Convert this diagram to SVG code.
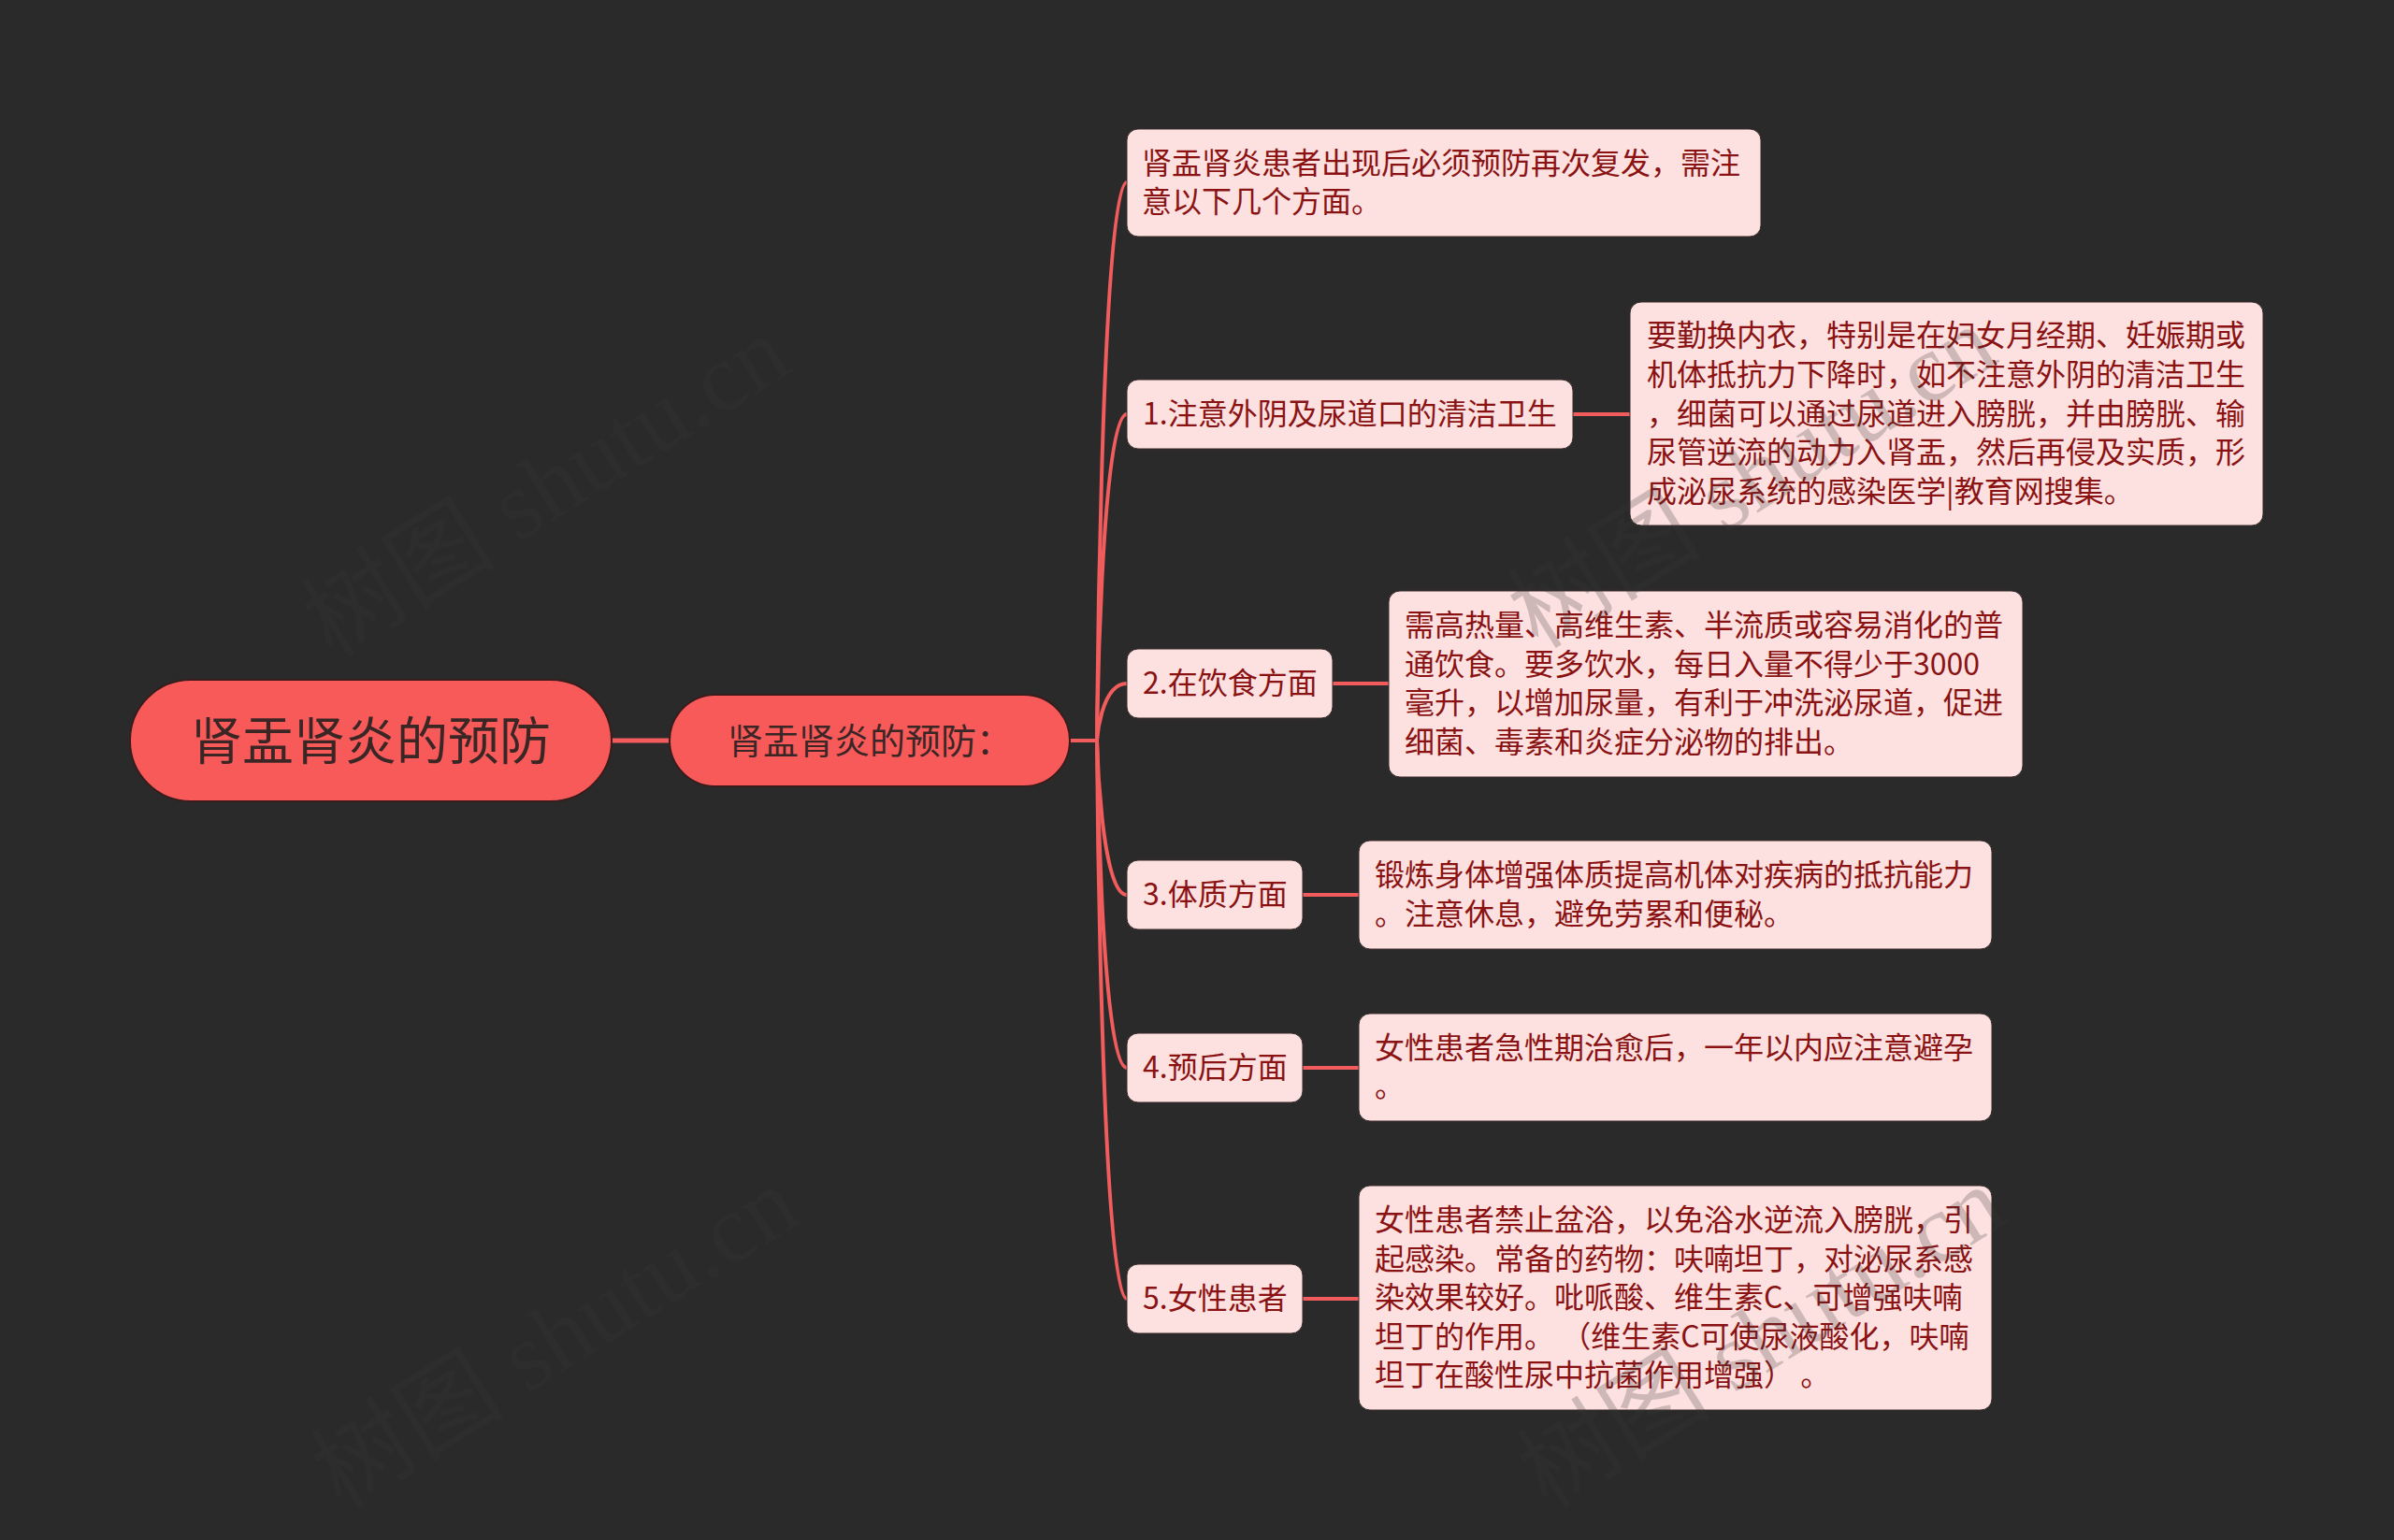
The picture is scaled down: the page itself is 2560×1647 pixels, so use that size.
<svg xmlns="http://www.w3.org/2000/svg" width="2560" height="1647" viewBox="0 0 2560 1647">
<style>
.bg{fill:#2a2a2a}
.main{fill:#f85a5a;stroke:#3a1c1c;stroke-width:2}
.box{fill:#fde0e0;stroke:#3a2a2a;stroke-width:1}
.t{font-family:"Noto Sans CJK SC","Noto Sans",sans-serif}
.tr{font-size:55px;fill:#3b2626}
.t2{font-size:38px;fill:#3b2626}
.tn{font-size:32px;fill:#8a1212}
.ln{fill:none;stroke:#f25c5c;stroke-width:4;stroke-linecap:round}
.wm{font-family:"Liberation Serif","Noto Sans CJK SC",serif;font-size:104px;fill:#3a3a3a;opacity:0.24}
</style>
<rect class="bg" x="0" y="0" width="2560" height="1647"/>
<g id="connectors">
<path class="ln" style="stroke-width:5" d="M654 792 H716"/>
<path class="ln" d="M1144 792 H1173"/>
<path class="ln" d="M1173 792 C1173 792 1177 195 1205 195"/>
<path class="ln" d="M1173 792 C1173 792 1177 443 1205 443"/>
<path class="ln" d="M1173 792 C1173 792 1177 731 1205 731"/>
<path class="ln" d="M1173 792 C1173 792 1177 957 1205 957"/>
<path class="ln" d="M1173 792 C1173 792 1177 1142 1205 1142"/>
<path class="ln" d="M1173 792 C1173 792 1177 1389 1205 1389"/>
<path class="ln" d="M1682 443 H1743"/>
<path class="ln" d="M1425 731 H1485"/>
<path class="ln" d="M1393 957 H1453"/>
<path class="ln" d="M1393 1142 H1453"/>
<path class="ln" d="M1393 1389 H1453"/>
</g>
<g id="root">
<rect class="main" x="139" y="727" width="515" height="130" rx="65"/>
<text class="t tr" x="396.5" y="812" text-anchor="middle">肾盂肾炎的预防</text>
</g>
<g id="sub">
<rect class="main" x="716" y="743" width="428" height="98" rx="49"/>
<text class="t t2" x="930" y="806" text-anchor="middle">肾盂肾炎的预防：</text>
</g>
<g id="c0">
<rect class="box" x="1205" y="138" width="678" height="115" rx="12"/>
<text class="t tn" x="1221" y="186">肾盂肾炎患者出现后必须预防再次复发，需注</text>
<text class="t tn" x="1221" y="227">意以下几个方面。</text>
</g>
<g id="c1">
<rect class="box" x="1205" y="406" width="477" height="74" rx="12"/>
<text class="t tn" x="1222" y="454">1.注意外阴及尿道口的清洁卫生</text>
</g>
<g id="n1">
<rect class="box" x="1743" y="323" width="677" height="239" rx="12"/>
<text class="t tn" x="1761" y="370">要勤换内衣，特别是在妇女月经期、妊娠期或</text>
<text class="t tn" x="1761" y="412">机体抵抗力下降时，如不注意外阴的清洁卫生</text>
<text class="t tn" x="1761" y="454">，细菌可以通过尿道进入膀胱，并由膀胱、输</text>
<text class="t tn" x="1761" y="495">尿管逆流的动力入肾盂，然后再侵及实质，形</text>
<text class="t tn" x="1761" y="537">成泌尿系统的感染医学|教育网搜集。</text>
</g>
<g id="c2">
<rect class="box" x="1205" y="694" width="220" height="74" rx="12"/>
<text class="t tn" x="1222" y="742">2.在饮食方面</text>
</g>
<g id="n2">
<rect class="box" x="1485" y="632" width="678" height="199" rx="12"/>
<text class="t tn" x="1502" y="680">需高热量、高维生素、半流质或容易消化的普</text>
<text class="t tn" x="1502" y="722">通饮食。要多饮水，每日入量不得少于3000</text>
<text class="t tn" x="1502" y="763">毫升，以增加尿量，有利于冲洗泌尿道，促进</text>
<text class="t tn" x="1502" y="805">细菌、毒素和炎症分泌物的排出。</text>
</g>
<g id="c3">
<rect class="box" x="1205" y="920" width="188" height="74" rx="12"/>
<text class="t tn" x="1222" y="968">3.体质方面</text>
</g>
<g id="n3">
<rect class="box" x="1453" y="899" width="677" height="116" rx="12"/>
<text class="t tn" x="1470" y="947">锻炼身体增强体质提高机体对疾病的抵抗能力</text>
<text class="t tn" x="1470" y="989">。注意休息，避免劳累和便秘。</text>
</g>
<g id="c4">
<rect class="box" x="1205" y="1105" width="188" height="74" rx="12"/>
<text class="t tn" x="1222" y="1153">4.预后方面</text>
</g>
<g id="n4">
<rect class="box" x="1453" y="1084" width="677" height="115" rx="12"/>
<text class="t tn" x="1470" y="1132">女性患者急性期治愈后，一年以内应注意避孕</text>
<text class="t tn" x="1470" y="1173">。</text>
</g>
<g id="c5">
<rect class="box" x="1205" y="1352" width="188" height="74" rx="12"/>
<text class="t tn" x="1222" y="1400">5.女性患者</text>
</g>
<g id="n5">
<rect class="box" x="1453" y="1268" width="677" height="240" rx="12"/>
<text class="t tn" x="1470" y="1316">女性患者禁止盆浴，以免浴水逆流入膀胱，引</text>
<text class="t tn" x="1470" y="1358">起感染。常备的药物：呋喃坦丁，对泌尿系感</text>
<text class="t tn" x="1470" y="1399">染效果较好。吡哌酸、维生素C、可增强呋喃</text>
<text class="t tn" x="1470" y="1441">坦丁的作用。 （维生素C可使尿液酸化，呋喃</text>
<text class="t tn" x="1470" y="1482">坦丁在酸性尿中抗菌作用增强） 。</text>
</g>
<g id="watermarks">
<text class="wm" transform="translate(355 705) rotate(-32)">树图 shutu.cn</text>
<text class="wm" transform="translate(1645 695) rotate(-32)">树图 shutu.cn</text>
<text class="wm" transform="translate(365 1615) rotate(-32)">树图 shutu.cn</text>
<text class="wm" transform="translate(1655 1615) rotate(-32)">树图 shutu.cn</text>
</g>
</svg>
